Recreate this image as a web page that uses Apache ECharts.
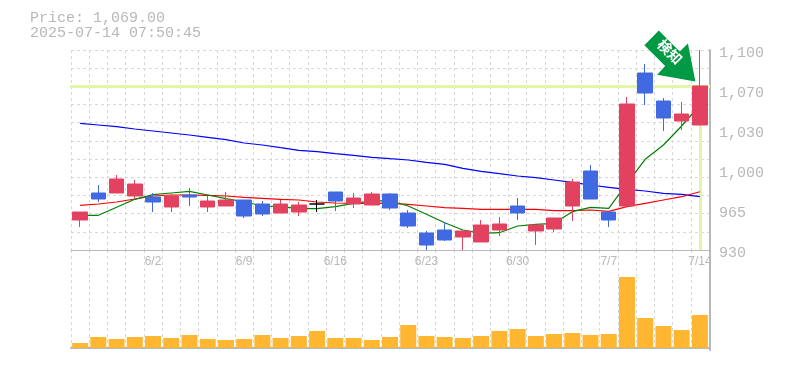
<!DOCTYPE html>
<html><head><meta charset="utf-8">
<style>html,body{margin:0;padding:0;background:#fff}#c{width:785px;height:370px}</style>
<script src="https://cdn.jsdelivr.net/npm/echarts@6/dist/echarts.min.js"></script>
</head><body><div id="c"></div>
<script>
const categories = ['5/23','5/26','5/27','5/28','5/29','6/2','6/3','6/4','6/5','6/6','6/9','6/10','6/11','6/12','6/13','6/16','6/17','6/18','6/19','6/20','6/23','6/24','6/25','6/26','6/27','6/30','7/1','7/2','7/3','7/4','7/7','7/8','7/9','7/10','7/14'];
const xLabels = ['6/2','6/9','6/16','6/23','6/30','7/7','7/14'];
const labelIndex = [4,9,14,19,24,29,34];
const opens = [955.5,978.45,978.45,975.9,975.05,966.55,976.75,966.55,967.4,972.5,969.1,961.45,962.3,969.1,979.3,969.1,968.25,977.6,961.45,944.45,947,941.05,936.8,947,967.4,946.15,947.85,967.4,997.15,962.3,967.4,1080.45,1056.65,1039.65,1036.25];
const closes = [962.3,973.35,990.35,986.1,970.8,975.9,975.05,971.65,972.5,958.9,960.6,969.1,968.25,969.1,971.65,974.2,977.6,965.7,950.4,934.25,938.5,946.15,951.25,952.1,961.45,951.25,957.2,987.8,973.35,955.5,1054.1,1063.45,1042.2,1045.6,1069.4];
const lows = [949.5,970.8,978.45,974.2,962.3,962.3,967.4,962.3,967.4,957.2,958.9,961.45,958.9,962.3,963.15,965.7,968.25,964,948.7,930,937.65,930,936.8,941.9,955.5,934.25,945.3,954.65,973.35,949.5,967.4,1053.25,1031.15,1032,1036.25];
const highs = [962.3,985.25,993.75,989.5,978.45,977.6,982.7,975.9,979.3,972.5,971.65,972.5,970.8,972.5,979.3,978.45,979.3,978.45,964,946.15,953.8,946.15,955.5,958.05,974.2,951.25,957.2,990.35,1002.25,962.3,1060.05,1088.1,1059.2,1055.8,1100];
const longAverage = [1037.7,1036.25,1034.8,1032.85,1031.15,1029.45,1027.75,1025.8,1023.75,1020.95,1019.25,1016.95,1014.75,1013.55,1011.85,1010.5,1008.8,1007.6,1006.5,1004.55,1002.85,999.45,996.9,994.85,992.9,991.45,989.5,987.55,985.25,983.3,981.6,980.15,978.2,977.35,975.3];
const midAverage = [968,969.1,970.8,973.35,975.9,976.75,976.75,976.5,975.9,974.8,973.95,973.1,972.5,970.8,969.95,969.7,969.7,969.7,968.85,967.4,965.95,965.45,964.6,964.6,964.6,964.6,963.4,963.4,964,962.9,966.8,969.7,972.5,975.3,979.55];
const shortAverage = [959.5,959.5,966.3,973.1,977,978.45,979.9,976.75,973.6,971,967.4,966.8,965.1,965.1,966.8,969.7,971.65,971.9,967.4,960.35,953.2,947,944.2,944.7,950.4,951.85,952.7,962.55,966.3,965.45,986.7,1007.1,1019.25,1035.4,1053.25];
const volumes = [50,110,90,110,120,100,130,90,80,90,130,100,120,170,100,100,80,110,230,120,110,100,120,170,190,120,140,150,130,140,710,300,220,180,330];
const gridValues = [930,945.45,960.91,976.36,991.82,1007.27,1022.73,1038.18,1053.64,1069.09,1084.55,1100];
const priceTickValues = [930,964,998,1032,1066,1100];
const priceTickLabels = ['930','965','1,000','1,030','1,070','1,100'];
const lastPrice = 1069.4;
const headerText = 'Price: 1,069.00\n2025-07-14 07:50:45';
const signalText = '検知';

const MONO = '"Liberation Mono", monospace';
const GREY = '#b8b8b8', DASH = '#d8d8d8';
const candles = categories.map((_, i) => {
  const v = [opens[i], closes[i], lows[i], highs[i]];
  return opens[i] === closes[i] ? {value: v, itemStyle: {color:'#000', color0:'#000', borderColor:'#000', borderColor0:'#000'}} : v;
});
const vLine = {show:true, interval:0, lineStyle:{color:DASH, type:[3,3], width:1}};
const chart = echarts.init(document.getElementById('c'), null, {renderer:'canvas'});
const priceLine = (name, data, color, w) => ({name, type:'line', data, xAxisIndex:0, yAxisIndex:0, symbol:'none', z:3, silent:true,
  lineStyle:{color, width:w}, animation:false});
chart.setOption({
  animation:false,
  title:{text:headerText, left:30, top:11, padding:0, textStyle:{color:GREY, fontFamily:MONO, fontSize:15, fontWeight:'normal', lineHeight:15}},
  grid:[{left:71, width:638, top:50, height:200},{left:71, width:638, top:250, height:100}],
  xAxis:[
    {type:'category', gridIndex:0, data:categories, boundaryGap:true,
     axisLine:{show:true, lineStyle:{color:GREY, width:1}}, axisTick:{show:false, interval:0}, splitLine:vLine,
     axisLabel:{color:GREY, fontFamily:'"Liberation Sans", sans-serif', fontSize:12, margin:6, showMinLabel:true, showMaxLabel:true,
       interval:(i)=>labelIndex.includes(i), formatter:(v,i)=>xLabels[labelIndex.indexOf(i)]||''}},
    {type:'category', gridIndex:1, data:categories, boundaryGap:true,
     axisLine:{show:true, lineStyle:{color:GREY, width:2}}, axisTick:{show:false, interval:0}, splitLine:vLine, axisLabel:{show:false}}
  ],
  yAxis:[
    {type:'value', gridIndex:0, position:'right', offset:1, min:930, max:1100, scale:true,
     axisLine:{show:true, lineStyle:{color:GREY, width:2}},
     axisTick:{show:false, customValues:gridValues},
     splitLine:{show:true, lineStyle:{color:DASH, type:[3,3], width:1}},
     axisLabel:{color:GREY, fontFamily:MONO, fontSize:15, margin:9, customValues:priceTickValues,
       verticalAlign:'top', lineHeight:7,
       showMinLabel:true, showMaxLabel:true, hideOverlap:false,
       formatter:(v)=>priceTickLabels[priceTickValues.indexOf(v)]}},
    {type:'value', gridIndex:1, position:'right', offset:1, min:-20, max:980,
     axisLine:{show:true, lineStyle:{color:GREY, width:2}}, axisTick:{show:false}, splitLine:{show:false}, axisLabel:{show:false}}
  ],
  series:[
    {name:'guide', type:'line', data:[], xAxisIndex:0, yAxisIndex:0, z:1, silent:true,
     markLine:{silent:true, symbol:'none', z:1, animation:false, label:{show:false},
       lineStyle:{color:'#e3f5a8', width:3, type:'solid'},
       data:[
         [{coord:[categories[0], lastPrice], x:70},{coord:[categories[34], lastPrice], x:710}],
         [{coord:[categories[34], lastPrice]},{coord:[categories[34], 930]}]
       ]}},
    priceLine('long', longAverage, '#0000ff', 1.2),
    priceLine('mid', midAverage, '#ff0000', 1.2),
    priceLine('short', shortAverage, '#008000', 1.2),
    {name:'price', type:'candlestick', data:candles, xAxisIndex:0, yAxisIndex:0, barWidth:15, z:5, silent:true,
     itemStyle:{color:'#e2425f', color0:'#4169e1', borderColor:'#e2425f', borderColor0:'#4169e1', borderWidth:1},
     markPoint:{silent:true, z:9, animation:false,
       data:[{coord:[categories[34], lastPrice],
         symbol:'path://M14.3 0L0 14.7L20.65 35.35L12.7 44L50.7 50.7L43.3 13L35.15 20.85Z',
         symbolSize:[51,51], symbolOffset:[-30,-30], symbolKeepAspect:true,
         itemStyle:{color:'#009944'},
         label:{show:true, position:'inside', formatter:signalText, rotate:-45, offset:[-3,-3], color:'#fff',
           fontSize:14, fontWeight:'bold', fontFamily:'"Noto Sans CJK JP"'}}]}},
    {name:'volume', type:'bar', data:volumes, xAxisIndex:1, yAxisIndex:1, barWidth:16, z:3, silent:true,
     itemStyle:{color:'#ffb732'}}
  ]
});
</script></body></html>
